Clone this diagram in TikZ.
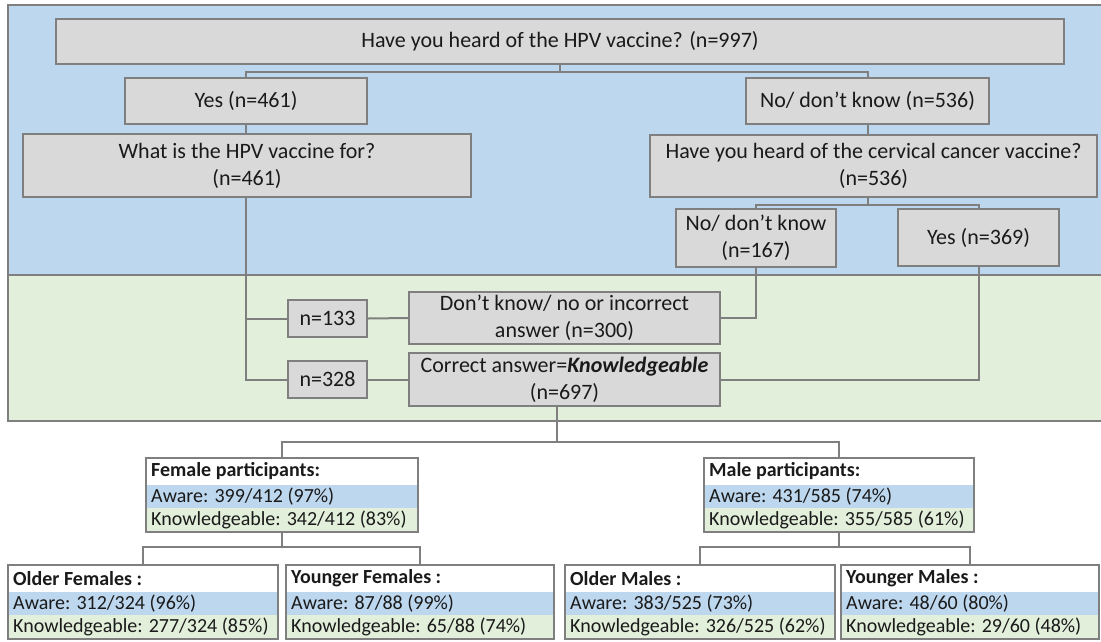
\documentclass[tikz,border=0pt]{standalone}
\usepackage{fontspec}
\setmainfont{Carlito}
\usetikzlibrary{calc}
\definecolor{bluebg}{HTML}{BDD7EE}
\definecolor{greenbg}{HTML}{E2EFDA}
\definecolor{boxgray}{HTML}{D9D9D9}
\definecolor{linegray}{HTML}{7F7F7F}
\definecolor{txt}{HTML}{1A1A1A}
\tikzset{
 qbox/.style={draw=linegray, line width=2pt, fill=boxgray, inner sep=0pt, align=center, text=txt, font=\fontsize{22}{27}\selectfont},
 conn/.style={draw=linegray, line width=2pt},
 region/.style={draw=linegray, line width=2pt},
 stattext/.style={anchor=west, inner sep=0pt, text=txt, font=\fontsize{20}{24}\selectfont},
 statframe/.style={inner sep=0pt, outer sep=0pt},
}
\newcommand\statbox[7]{%
 \node[statframe, minimum width=#4, minimum height=74] (#1) at (#2,#3+37) {};
 \fill[white] (#1.north west) rectangle ($(#1.north east)+(0,27)$);
 \fill[bluebg] ($(#1.north west)+(0,27)$) rectangle ($(#1.north east)+(0,50)$);
 \fill[greenbg] ($(#1.north west)+(0,50)$) rectangle (#1.south east);
 \draw[linegray, line width=2pt] (#1.north west) rectangle (#1.south east);
 \node[stattext, font=\bfseries\fontsize{20}{24}\selectfont] (#1-t) at ($(#1.north west)+(5,13.5)$) {#5};
 \node[stattext] (#1-a) at ($(#1.north west)+(5,38.5)$) {#6};
 \node[stattext] (#1-k) at ($(#1.north west)+(5,62)$) {#7};
}
\begin{document}
\begin{tikzpicture}[x=1pt,y=-1pt]
\useasboundingbox (0,0) rectangle (1101,641);
% regions
\fill[bluebg] (8,5) rectangle (1101,275);
\fill[greenbg] (8,275) rectangle (1101,421);
\draw[region] (1101,5) -- (8,5) -- (8,421) -- (1101,421);
\draw[region] (8,275) -- (1101,275);
% question boxes
\node[qbox, minimum width=1008, minimum height=45] (top) at (560,41.5) {Have you heard of the HPV vaccine? (n=997)};
\node[qbox, minimum width=242, minimum height=46] (yes) at (246,101) {Yes (n=461)};
\node[qbox, minimum width=243, minimum height=46] (no) at (867.5,101) {No/ don’t know (n=536)};
\node[qbox, minimum width=448, minimum height=63] (what) at (247,165.5) {What is the HPV vaccine for?\\(n=461)};
\node[qbox, minimum width=447, minimum height=62] (cerv) at (873.5,166) {Have you heard of the cervical cancer vaccine?\\(n=536)};
\node[qbox, minimum width=160, minimum height=58] (nodk) at (756,238) {No/ don’t know\\(n=167)};
\node[qbox, minimum width=161, minimum height=57] (yes369) at (978.5,237.5) {Yes (n=369)};
\node[qbox, minimum width=79, minimum height=37] (n133) at (327.5,318.5) {n=133};
\node[qbox, minimum width=79, minimum height=37] (n328) at (327.5,379.5) {n=328};
\node[qbox, minimum width=311, minimum height=52] (dk) at (564.5,318) {Don’t know/ no or incorrect\\answer (n=300)};
\node[qbox, minimum width=311, minimum height=53] (corr) at (564.5,379.5) {Correct answer=\textbf{\textit{Knowledgeable}}\\(n=697)};
% connectors upper
\draw[conn] (top.south) -- ++(0,7);
\draw[conn] (yes.north) |- ($(top.south)+(0,7)$) -| (no.north);
\draw[conn] (yes.south) -- (yes.south |- what.north);
\draw[conn] (no.south) -- (no.south |- cerv.north);
\draw[conn] (cerv.south -| no.south) -- ++(0,7);
\draw[conn] (nodk.north) |- ($(cerv.south -| no.south)+(0,7)$) -| (yes369.north);
\draw[conn] (what.south -| yes.south) |- (n328.west);
\draw[conn] (n133.west -| yes.south) -- (n133.west);
\draw[conn] (n133.east) -- (dk.west);
\draw[conn] (n328.east) -- (corr.west);
\draw[conn] (dk.east) -| (nodk.south);
\draw[conn] (corr.east) -| (yes369.south);
% stat boxes
\statbox{fem}{282}{458}{272}{Female participants:}{Aware: 399/412 (97\%)}{Knowledgeable: 342/412 (83\%)}
\statbox{mal}{839}{458}{270}{Male participants:}{Aware: 431/585 (74\%)}{Knowledgeable: 355/585 (61\%)}
\statbox{ofem}{143}{565}{270}{Older Females :}{Aware: 312/324 (96\%)}{Knowledgeable: 277/324 (85\%)}
\statbox{yfem}{420}{565}{268}{Younger Females :}{Aware: 87/88 (99\%)}{Knowledgeable: 65/88 (74\%)}
\statbox{omal}{700}{565}{270}{Older Males :}{Aware: 383/525 (73\%)}{Knowledgeable: 326/525 (62\%)}
\statbox{ymal}{970}{565}{258}{Younger Males :}{Aware: 48/60 (80\%)}{Knowledgeable: 29/60 (48\%)}
% connectors lower
\coordinate (cs) at ($(corr.south)+(-7.5,0)$);
\draw[conn] (cs) -- ++(0,35);
\draw[conn] (fem.north) |- ($(cs)+(0,35)$) -| (mal.north);
\draw[conn] (fem.south) -- ++(0,15);
\draw[conn] (ofem.north) |- ($(fem.south)+(0,15)$) -| (yfem.north);
\draw[conn] (mal.south) -- ++(0,15);
\draw[conn] (omal.north) |- ($(mal.south)+(0,15)$) -| (ymal.north);
\end{tikzpicture}
\end{document}
